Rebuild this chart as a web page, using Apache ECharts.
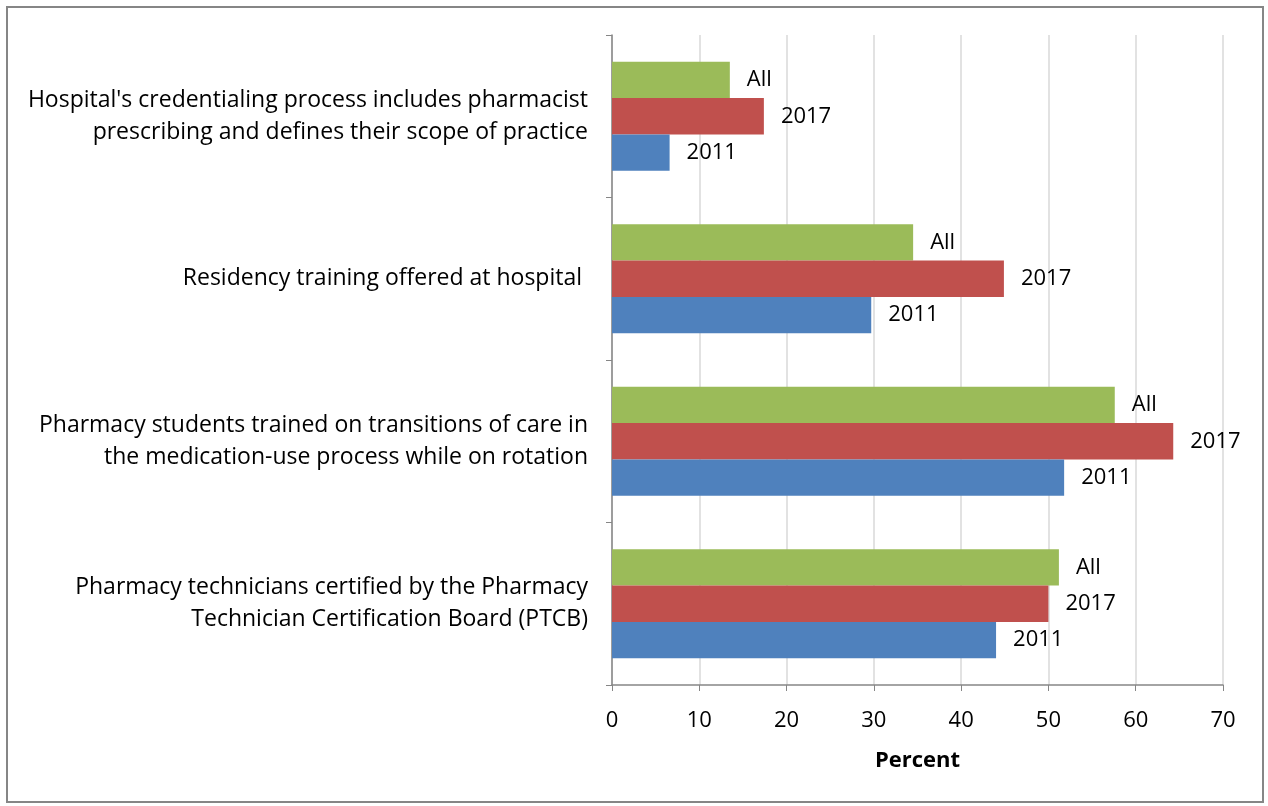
<!DOCTYPE html>
<html>
<head>
<meta charset="utf-8">
<script src="https://cdn.jsdelivr.net/npm/echarts@6/dist/echarts.min.js"></script>
<style>
  html, body { margin: 0; padding: 0; background: #fff; }
  #chart { width: 1268px; height: 806px; }
</style>
</head>
<body>
<div id="chart"></div>
<script>
var categories = [
    "Hospital's credentialing process includes pharmacist\nprescribing and defines their scope of practice",
    'Residency training offered at hospital ',
    'Pharmacy students trained on transitions of care in\nthe medication-use process while on rotation',
    'Pharmacy technicians certified by the Pharmacy\nTechnician Certification Board (PTCB)'
];
var seriesNames = ['All', '2017', '2011'];
var valuesAll = [13.5, 34.5, 57.6, 51.2];
var values2017 = [17.4, 44.9, 64.3, 50.0];
var values2011 = [6.6, 29.7, 51.8, 44.0];
var xTicks = { min: 0, max: 70, interval: 10 };

var colors = ['#9BBB59', '#C0504D', '#4F81BD'];
var font = 'Open Sans';

var chart = echarts.init(document.getElementById('chart'));

function makeSeries(name, data, color) {
    return {
        name: name,
        type: 'bar',
        data: data,
        barGap: '0%',
        barCategoryGap: '33%',
        itemStyle: { color: color },
        label: {
            show: true,
            position: 'right',
            distance: 17,
            formatter: '{a}',
            color: '#000',
            fontSize: 22,
            fontFamily: font
        },
        emphasis: { disabled: true }
    };
}

var option = {
    animation: false,
    grid: { left: 612, right: 45, top: 35, bottom: 121 },
    graphic: [{
        type: 'rect',
        shape: { x: 7, y: 7, width: 1256, height: 795 },
        style: { fill: 'none', stroke: '#868686', lineWidth: 2 }
    }],
    xAxis: {
        type: 'value',
        min: xTicks.min,
        max: xTicks.max,
        interval: xTicks.interval,
        name: 'Percent',
        nameLocation: 'middle',
        nameGap: 65,
        nameTextStyle: { color: '#000', fontSize: 22, fontWeight: 'bold', fontFamily: font },
        axisLine: { show: true, lineStyle: { color: '#868686', width: 1.5 } },
        axisTick: { show: true, length: 6, lineStyle: { color: '#868686' } },
        axisLabel: { color: '#000', fontSize: 22, fontFamily: font, margin: 25 },
        splitLine: { show: true, lineStyle: { color: '#D9D9D9', width: 1.5 } }
    },
    yAxis: {
        type: 'category',
        inverse: true,
        data: categories,
        axisLine: { show: true, lineStyle: { color: '#868686', width: 1.5 } },
        axisTick: { show: true, length: 6, lineStyle: { color: '#868686' } },
        axisLabel: {
            color: '#000',
            fontSize: 23,
            fontFamily: font,
            margin: 24,
            align: 'right',
            lineHeight: 32
        },
        splitLine: { show: false }
    },
    series: [
        makeSeries(seriesNames[0], valuesAll, colors[0]),
        makeSeries(seriesNames[1], values2017, colors[1]),
        makeSeries(seriesNames[2], values2011, colors[2])
    ]
};

chart.setOption(option);
</script>
</body>
</html>
